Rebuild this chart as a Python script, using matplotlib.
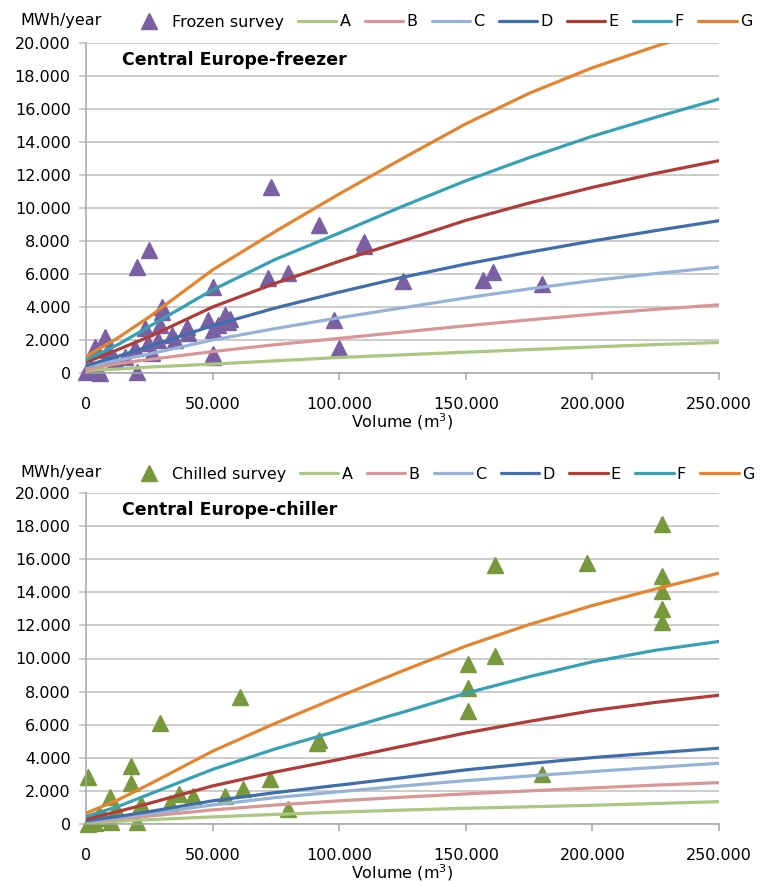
import numpy as np
import matplotlib
matplotlib.use('Agg')
import matplotlib.pyplot as plt
import matplotlib.ticker as mticker

plt.rcParams['font.family'] = ['DejaVu Sans']

# model curves, read at these volumes (m3)
volume = [0, 12500, 25000, 50000, 75000, 100000, 125000, 150000, 175000, 200000, 225000, 250000]
model_names = ['A', 'B', 'C', 'D', 'E', 'F', 'G']
model_colors = ['#A9C880', '#D99694', '#95B3D7', '#3F6EAC', '#B03B37', '#36A0B5', '#E4842F']

freezer_A = [150, 240, 360, 540, 740, 940, 1100, 1260, 1420, 1580, 1720, 1850]
freezer_B = [200, 570, 820, 1300, 1720, 2100, 2480, 2860, 3220, 3560, 3860, 4130]
freezer_C = [400, 770, 1150, 2000, 2700, 3350, 3950, 4550, 5100, 5600, 6030, 6420]
freezer_D = [450, 1010, 1610, 2870, 3950, 4900, 5800, 6600, 7320, 8000, 8630, 9230]
freezer_E = [650, 1410, 2200, 4000, 5450, 6770, 8000, 9250, 10300, 11250, 12100, 12870]
freezer_F = [800, 1710, 2820, 5040, 6900, 8480, 10100, 11650, 13050, 14350, 15500, 16600]
freezer_G = [1000, 2120, 3400, 6250, 8600, 10850, 13000, 15100, 16950, 18500, 19800, 21000]

chiller_A = [80, 170, 260, 430, 580, 720, 840, 950, 1040, 1130, 1240, 1350]
chiller_B = [120, 300, 480, 850, 1150, 1400, 1620, 1820, 2000, 2180, 2350, 2500]
chiller_C = [160, 380, 620, 1150, 1600, 1950, 2300, 2620, 2900, 3170, 3420, 3670]
chiller_D = [200, 450, 750, 1400, 1900, 2350, 2800, 3270, 3650, 4010, 4300, 4580]
chiller_E = [300, 750, 1250, 2300, 3150, 3900, 4700, 5500, 6200, 6850, 7350, 7780]
chiller_F = [450, 1050, 1800, 3300, 4550, 5650, 6750, 7900, 8900, 9800, 10500, 11030]
chiller_G = [650, 1450, 2400, 4400, 6100, 7700, 9250, 10750, 12050, 13200, 14200, 15160]

# survey points (volume, MWh/year)
frozen_x = [73000, 92000, 109600, 109600, 25000, 20000, 72000, 79800, 50200, 97800, 99900,
            50200, 50000, 125100, 156700, 160900, 180000, 30100, 30100, 23300, 29200, 33800,
            39700, 40300, 48200, 50200, 54800, 56100, 7500, 3500, 20000, 0, 5500, 19300, 24600,
            28500, 8800, 11400, 15400, 52000, 57000, 2000, 10000, 35000, 26000]
frozen_y = [11300, 8970, 7960, 7700, 7450, 6440, 5740, 6080, 5230, 3210, 1500,
            1150, 950, 5600, 5640, 6140, 5370, 4020, 3720, 2710, 2910, 2300,
            2810, 2400, 3210, 2610, 3520, 3110, 2200, 1600, 80, 80, 0, 1500, 1800,
            2000, 1390, 790, 990, 2900, 3300, 300, 1000, 2000, 1200]

chilled_x = [227600, 161700, 197800, 227600, 227600, 227600, 227600, 161700, 150800, 150800,
             150800, 180100, 60700, 29200, 91200, 92000, 900, 17700, 17700, 9500, 72600, 62000,
             54800, 42100, 36700, 33100, 21700, 79800, 20000, 800, 10000, 3500, 7200, 5000, 12000]
chilled_y = [18130, 15650, 15790, 14990, 14100, 12970, 12230, 10150, 9670, 8200,
             6850, 3000, 7690, 6080, 4910, 5050, 2830, 3480, 2480, 1650, 2700, 2100,
             1690, 1700, 1830, 1250, 1180, 890, 140, 0, 140, 40, 340, 600, 900]

freezer_models = [freezer_A, freezer_B, freezer_C, freezer_D, freezer_E, freezer_F, freezer_G]
chiller_models = [chiller_A, chiller_B, chiller_C, chiller_D, chiller_E, chiller_F, chiller_G]

W, H = 773, 883
fig = plt.figure(figsize=(W / 100, H / 100), dpi=100)

grid_color = '#BFBFBF'
axis_color = '#A6A6A6'
fs = 11.5


def dot_thousands(v, pos=None):
    return '{:,.0f}'.format(v).replace(',', '.')


def draw_panel(rect, sx, sy, marker_color, survey_label, models, title, top_px):
    ax = fig.add_axes(rect)
    ax.plot(sx, sy, linestyle='none', marker='^', markersize=11, color=marker_color,
            markeredgecolor=marker_color, clip_on=False, zorder=2, label=survey_label)
    for name, vals, c in zip(model_names, models, model_colors):
        ax.plot(volume, vals, color=c, linewidth=2.3, zorder=3, label=name,
                solid_capstyle='round', solid_joinstyle='round')
    ax.set_xlim(0, 250000)
    ax.set_ylim(0, 20000)
    ax.set_xticks(np.arange(0, 250001, 50000))
    ax.set_yticks(np.arange(0, 20001, 2000))
    ax.xaxis.set_major_formatter(mticker.FuncFormatter(dot_thousands))
    ax.yaxis.set_major_formatter(mticker.FuncFormatter(dot_thousands))
    ax.grid(axis='y', color=grid_color, linewidth=1.1, zorder=0)
    ax.set_axisbelow(True)
    for s in ['top', 'right']:
        ax.spines[s].set_visible(False)
    for s in ['left', 'bottom']:
        ax.spines[s].set_color(axis_color)
        ax.spines[s].set_linewidth(1.1)
    ax.tick_params(axis='x', direction='out', length=5, width=1.1, color=axis_color,
                   labelsize=fs, pad=12, labelcolor='black')
    ax.tick_params(axis='y', direction='out', length=5, width=1.1, color=grid_color,
                   labelsize=fs, pad=6, labelcolor='black')
    ax.set_xlabel('Volume (m$^3$)', fontsize=fs, labelpad=0)
    ax.text(0.057, 0.948, title, transform=ax.transAxes, fontsize=12.5,
            fontweight='bold', ha='left', va='center')
    fig.text(20 / W, 1 - top_px / H, 'MWh/year', fontsize=fs, ha='left', va='center')
    handles, labels = ax.get_legend_handles_labels()
    fig.legend(handles, labels, loc='center left', bbox_to_anchor=(130 / W, 1 - (top_px + 2) / H),
               ncol=8, frameon=False, fontsize=fs, handlelength=2.4, handletextpad=0.2,
               columnspacing=0.9, numpoints=1, borderaxespad=0, borderpad=0)
    return ax


ax1 = draw_panel([86 / W, 1 - 373 / H, 633 / W, 330 / H], frozen_x, frozen_y, '#7B5FA3',
                 'Frozen survey', freezer_models, 'Central Europe-freezer', 20)
ax2 = draw_panel([86 / W, 1 - 824 / H, 633 / W, 331 / H], chilled_x, chilled_y, '#78983C',
                 'Chilled survey', chiller_models, 'Central Europe-chiller', 472)

fig.savefig('out.png', dpi=100)
